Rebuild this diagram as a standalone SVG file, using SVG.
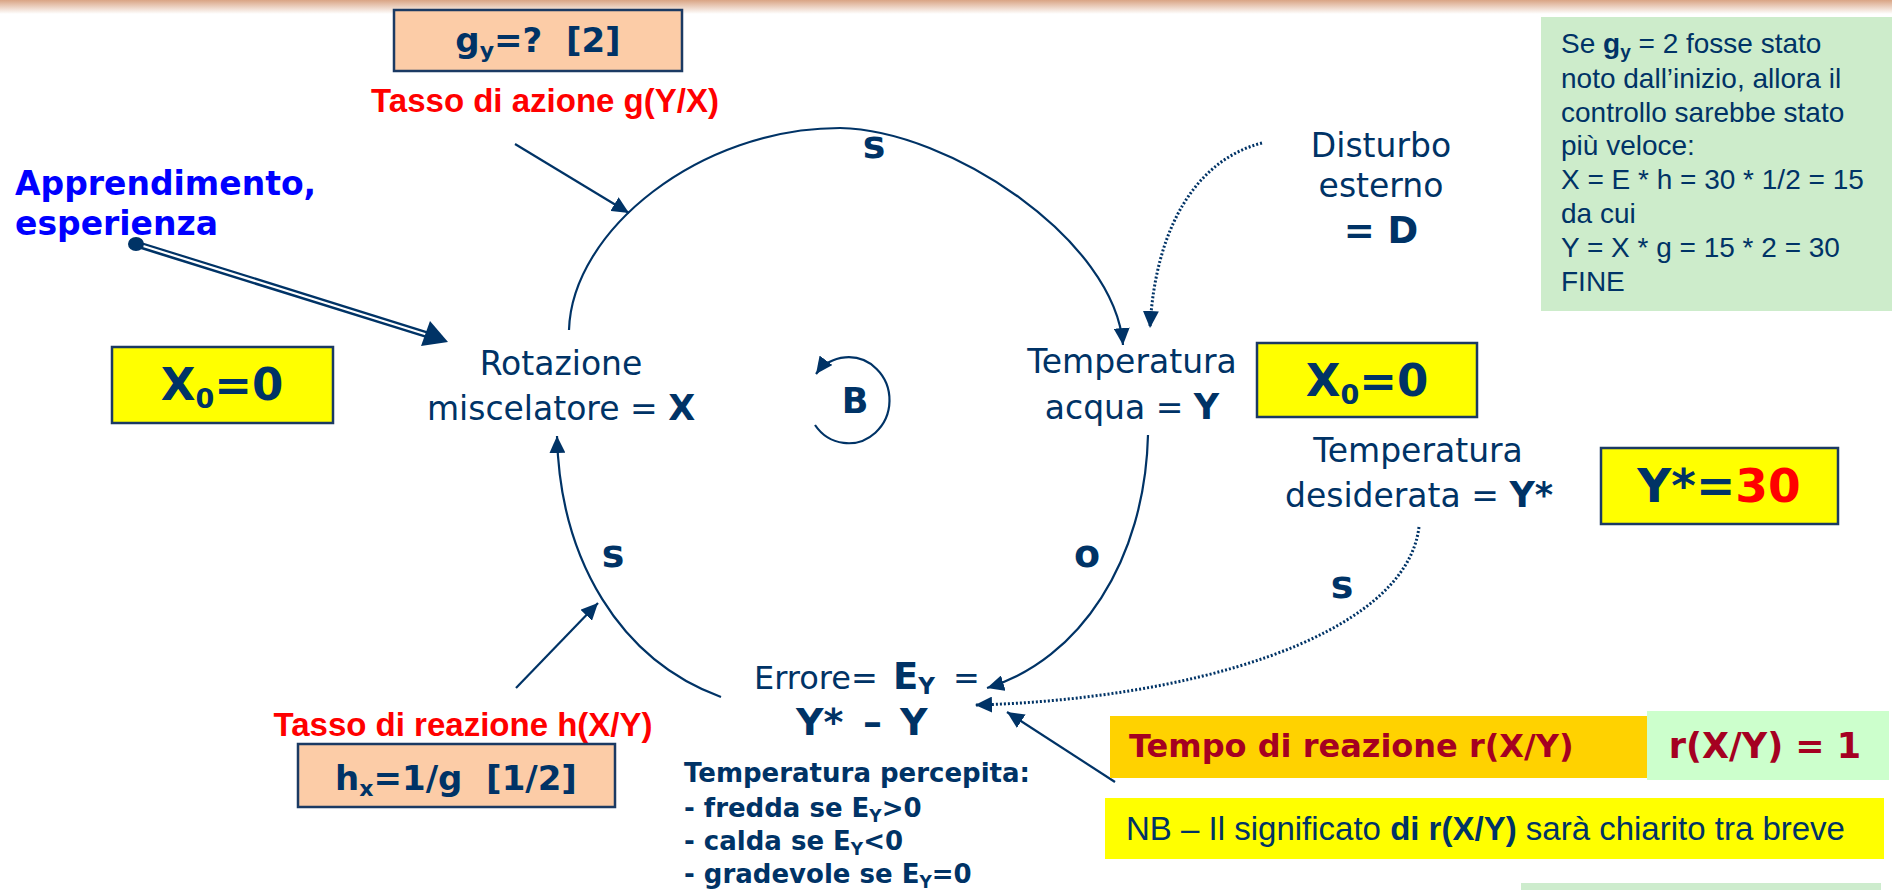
<svg xmlns="http://www.w3.org/2000/svg" width="1892" height="890" viewBox="0 0 1892 890">
<defs>
<linearGradient id="topbar" x1="0" y1="0" x2="0" y2="1"><stop offset="0" stop-color="#d9a484"/><stop offset="1" stop-color="#ffffff"/></linearGradient>
<marker id="ah" markerUnits="userSpaceOnUse" markerWidth="18" markerHeight="16" refX="17" refY="8" orient="auto"><path d="M0,0 L17,8 L0,16 z" fill="#003366"/></marker>
</defs>
<style>
.t{font-family:"DejaVu Sans",Verdana,sans-serif;fill:#003366}
.a{font-family:"Liberation Sans",Arial,sans-serif;fill:#003366}
.b{font-weight:bold}
.red{fill:#ff0000}
.dred{fill:#a50021}
.blue{fill:#0000ff}
.ln{fill:none;stroke:#003366;stroke-width:2.2}
.dt{fill:none;stroke:#003366;stroke-width:3;stroke-dasharray:2 2}
.box{stroke:#1b3a63;stroke-width:2.5}
.peach{fill:#fccca7}
.yel{fill:#ffff00}
.m{text-anchor:middle}
.pre{white-space:pre}
</style>
<rect x="0" y="0" width="1892" height="14" fill="url(#topbar)"/>

<g id="connectors">
<path class="ln" d="M569,330 C572,230 700,128 840,128 C950,130 1115,240 1123,345" marker-end="url(#ah)"/>
<path class="ln" d="M1148,435 C1145,560 1080,660 987,688" marker-end="url(#ah)"/>
<path class="ln" d="M721,697 C620,660 560,560 557,436" marker-end="url(#ah)"/>
<path class="ln" d="M515,144 L629,213" marker-end="url(#ah)"/>
<path class="ln" d="M516,688 L598,603" marker-end="url(#ah)"/>
<path class="ln" d="M1115,782 L1007,712" marker-end="url(#ah)"/>
<path class="dt" d="M1262,143 C1195,160 1155,230 1150,328" marker-end="url(#ah)"/>
<path class="dt" d="M1419,527 C1405,640 1180,700 975,705" marker-end="url(#ah)"/>
<line x1="136" y1="244" x2="428" y2="335" stroke="#003366" stroke-width="7"/>
<line x1="140" y1="245" x2="428" y2="335" stroke="#ffffff" stroke-width="2.2"/>
<polygon points="448,342 421,346 430,321" fill="#003366"/>
<ellipse cx="136" cy="244" rx="8" ry="7" fill="#003366"/>
<path class="ln" d="M815,425 A41,43 0 1 0 816,374" marker-end="url(#ah)"/>
<text class="t b m" x="874" y="158" font-size="38">s</text>
<text class="t b m" x="613" y="567" font-size="38">s</text>
<text class="t b m" x="1087" y="567" font-size="38">o</text>
<text class="t b m" x="1342" y="598" font-size="38">s</text>
</g>

<g id="n-gy">
<rect class="box peach" x="394" y="10" width="288" height="61"/>
<text class="t b m pre" x="538" y="52" font-size="34">g<tspan font-size="22" dy="6">y</tspan><tspan dy="-6">=?  [2]</tspan></text>
</g>
<g id="n-tasso-azione">
<text class="a b red m" x="545" y="112" font-size="33">Tasso di azione g(Y/X)</text>
</g>
<g id="n-apprend">
<text class="t b blue" x="15" y="195" font-size="33">Apprendimento,</text>
<text class="t b blue" x="15" y="235" font-size="33">esperienza</text>
</g>
<g id="n-x0-left">
<rect class="box yel" x="112" y="347" width="221" height="76"/>
<text class="t b m" x="222" y="400" font-size="45">X<tspan font-size="27" dy="8">0</tspan><tspan dy="-8">=0</tspan></text>
</g>
<g id="n-rotazione">
<text class="t m" x="561" y="375" font-size="33">Rotazione</text>
<text class="t m" x="561" y="420" font-size="33">miscelatore = <tspan class="b" font-size="35">X</tspan></text>
</g>
<g id="n-B">
<text class="t b m" x="855" y="413" font-size="35">B</text>
</g>
<g id="n-temperatura">
<text class="t m" x="1132" y="373" font-size="33">Temperatura</text>
<text class="t m" x="1132" y="419" font-size="33">acqua = <tspan class="b" font-size="35">Y</tspan></text>
</g>
<g id="n-x0-right">
<rect class="box yel" x="1257" y="343" width="220" height="74"/>
<text class="t b m" x="1367" y="396" font-size="45">X<tspan font-size="27" dy="8">0</tspan><tspan dy="-8">=0</tspan></text>
</g>
<g id="n-disturbo">
<text class="t m" x="1381" y="157" font-size="33">Disturbo</text>
<text class="t m" x="1381" y="197" font-size="33">esterno</text>
<text class="t b m" x="1381" y="243" font-size="37">= D</text>
</g>
<g id="n-desiderata">
<text class="t m" x="1418" y="462" font-size="33">Temperatura</text>
<text class="t m" x="1419" y="507" font-size="33">desiderata = <tspan class="b" font-size="35">Y*</tspan></text>
</g>
<g id="n-ystar">
<rect class="box yel" x="1601" y="448" width="237" height="76"/>
<text class="t b m" x="1719" y="502" font-size="47">Y*=<tspan class="red">30</tspan></text>
</g>
<g id="n-note">
<rect x="1541" y="17" width="351" height="294" fill="#cdeccb"/>
<text class="a" font-size="28">
<tspan x="1561" y="53">Se <tspan class="b">g</tspan><tspan class="b" font-size="19" dy="5">y</tspan><tspan dy="-5"> = 2 fosse stato</tspan></tspan>
<tspan x="1561" y="88">noto dall’inizio, allora il</tspan>
<tspan x="1561" y="122">controllo sarebbe stato</tspan>
<tspan x="1561" y="155">più veloce:</tspan>
<tspan x="1561" y="189">X = E * h = 30 * 1/2 = 15</tspan>
<tspan x="1561" y="223">da cui</tspan>
<tspan x="1561" y="257">Y = X * g = 15 * 2 = 30</tspan>
<tspan x="1561" y="291">FINE</tspan>
</text>
</g>
<g id="n-errore">
<text class="t" y="689" font-size="32"><tspan x="754">Errore=</tspan><tspan x="893" class="b" font-size="37">E</tspan><tspan class="b" font-size="23" dy="5">Y</tspan><tspan x="953" dy="-5">=</tspan></text>
<text class="t b" y="735" font-size="38"><tspan x="796">Y*</tspan><tspan x="863">–</tspan><tspan x="900">Y</tspan></text>
</g>
<g id="n-percepita">
<text class="t b" font-size="26">
<tspan x="684" y="782">Temperatura percepita:</tspan>
<tspan x="684" y="817">- fredda se E<tspan font-size="17" dy="5">Y</tspan><tspan dy="-5">&gt;0</tspan></tspan>
<tspan x="684" y="850">- calda se E<tspan font-size="17" dy="5">Y</tspan><tspan dy="-5">&lt;0</tspan></tspan>
<tspan x="684" y="883">- gradevole se E<tspan font-size="17" dy="5">Y</tspan><tspan dy="-5">=0</tspan></tspan>
</text>
</g>
<g id="n-tasso-reazione">
<text class="a b red m" x="463" y="736" font-size="33">Tasso di reazione h(X/Y)</text>
</g>
<g id="n-hx">
<rect class="box peach" x="298" y="744" width="317" height="63"/>
<text class="t b m pre" x="456" y="790" font-size="34">h<tspan font-size="22" dy="6">x</tspan><tspan dy="-6">=1/g  [1/2]</tspan></text>
</g>
<g id="n-tempo">
<rect x="1110" y="716" width="537" height="62" fill="#ffd200"/>
<text class="t b dred" x="1129" y="757" font-size="32">Tempo di reazione r(X/Y)</text>
</g>
<g id="n-r">
<rect x="1647" y="711" width="242" height="69" fill="#ccffcc"/>
<text class="t b dred m" x="1765" y="758" font-size="35">r(X/Y) = 1</text>
</g>
<g id="n-nb">
<rect x="1105" y="798" width="779" height="61" fill="#ffff00"/>
<text class="a" x="1126" y="840" font-size="33">NB – Il significato <tspan class="b">di r(X/Y)</tspan> sarà chiarito tra breve</text>
</g>
<g id="n-note2">
<rect x="1521" y="883" width="360" height="7" fill="#cdeccd"/>
</g>
</svg>
